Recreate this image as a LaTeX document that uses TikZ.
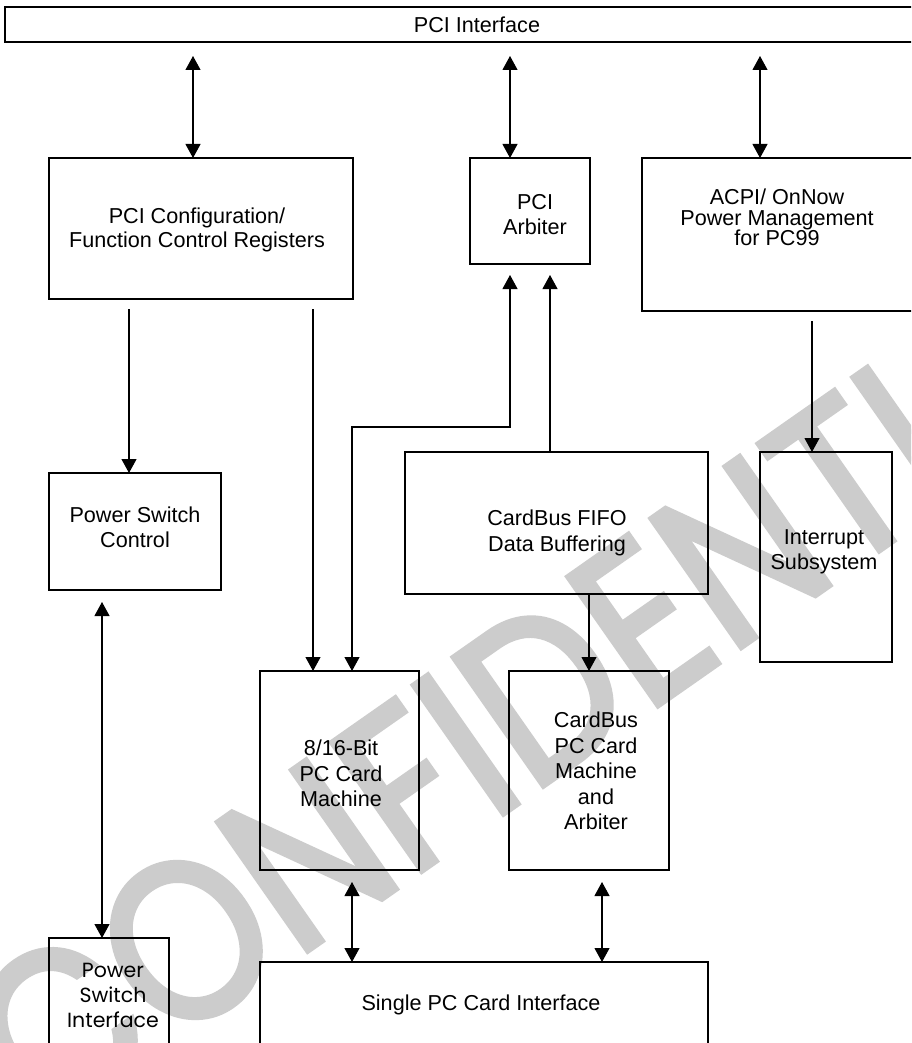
\documentclass[tikz,border=0pt]{standalone}
\usepackage{fontspec}
\setmainfont{Liberation Sans}
\newfontfamily\psifont{Poppins}
\newfontfamily\wmfont[FakeBold=2.5]{Poppins}
\usetikzlibrary{arrows.meta}
\begin{document}
\begin{tikzpicture}[x=1pt,y=-1pt,
  box/.style={draw, line width=1.4pt, outer sep=0pt, inner sep=0pt},
  txt/.style={align=center, inner sep=0pt, font=\fontsize{21.6}{25}\selectfont},
  conn/.style={line width=1.1pt},
  arr/.style={conn, -{Triangle[width=15pt,length=14pt]}},
  dbl/.style={conn, {Triangle[width=15pt,length=14pt]}-{Triangle[width=15pt,length=14pt]}},
]
\useasboundingbox (0,0) rectangle (911,1043);
\clip (0,0) rectangle (911,1043);
\fill[white] (0,0) rectangle (911,1043);
% watermark
\node[rotate=35, anchor=base, text=black!20, inner sep=0pt,
      font=\wmfont\fontsize{225}{225}\selectfont] (wm) at (596,749) {\scalebox{0.88}[1]{CONFIDENTIAL}};
% boxes
\node[box, minimum width=925, minimum height=35]  (pci)    at (467.5,24.5) {};
\node[box, minimum width=304, minimum height=141] (cfg)    at (201,228.5) {};
\node[box, minimum width=120, minimum height=106] (arb)    at (530,211) {};
\node[box, minimum width=288, minimum height=153] (acpi)   at (786,234.5) {};
\node[box, minimum width=172, minimum height=117] (psc)    at (135,531.5) {};
\node[box, minimum width=303, minimum height=142] (fifo)   at (556.5,523) {};
\node[box, minimum width=132, minimum height=210] (intr)   at (826,557) {};
\node[box, minimum width=159, minimum height=199] (b816)   at (339.5,770.5) {};
\node[box, minimum width=160, minimum height=199] (cbm)    at (589,770.5) {};
\node[box, minimum width=448, minimum height=118] (single) at (484,1021) {};
\node[box, minimum width=120, minimum height=142] (psi)    at (109,1009) {};
% texts
\node[txt] (pcit) at (477,25) {PCI Interface};
\node[txt, font=\fontsize{21.6}{24}\selectfont] (cfgt) at (197,230) {PCI Configuration/\\Function Control Registers};
\node[txt] (arbt) at (535,214.5) {PCI\\Arbiter};
\node[txt, font=\fontsize{21.6}{20.5}\selectfont] (acpit) at (777,217.5) {ACPI/ OnNow\\Power Management\\for PC99};
\node[txt] (psct) at (135,527.5) {Power Switch\\Control};
\node[txt, font=\fontsize{21.6}{26}\selectfont] (fifot) at (557,533) {CardBus FIFO\\Data Buffering};
\node[txt] (intrt) at (824,552) {Interrupt\\Subsystem};
\node[txt, font=\fontsize{21.6}{25.5}\selectfont] (b816t) at (341,773.5) {8/16-Bit\\PC Card\\Machine};
\node[txt, font=\fontsize{21.6}{25.5}\selectfont] (cbmt) at (596,771) {CardBus\\PC Card\\Machine\\and\\Arbiter};
\node[txt] (singlet) at (481,1005) {Single PC Card Interface};
\node[txt, font=\psifont\fontsize{20.5}{25}\selectfont] (psit) at (113,995) {Power\\Switch\\Interface};
% lanes
\coordinate (l1) at (193,0);
\coordinate (l2) at (510,0);
\coordinate (l3) at (760,0);
\coordinate (l4) at (129,0);
\coordinate (l5) at (313,0);
\coordinate (j1) at (510,427);
\coordinate (j2) at (352,427);
\coordinate (l8) at (550,0);
\coordinate (l9) at (812,0);
\coordinate (l10) at (589,0);
\coordinate (l11) at (102,0);
\coordinate (l12) at (352,0);
\coordinate (l13) at (602,0);
% connectors
\draw[dbl, shorten <=14pt] (pci.south -| l1) -- (cfg.north -| l1);
\draw[dbl, shorten <=14pt] (pci.south -| l2) -- (arb.north -| l2);
\draw[dbl, shorten <=14pt] (pci.south -| l3) -- (acpi.north -| l3);
\draw[arr, shorten <=10pt] (cfg.south -| l4) -- (psc.north -| l4);
\draw[arr, shorten <=10pt] (cfg.south -| l5) -- (b816.north -| l5);
\draw[dbl, shorten <=11pt] (arb.south -| j1) -- (j1) -- (j2) -- (b816.north -| j2);
\draw[arr, shorten >=11pt] (fifo.north -| l8) -- (arb.south -| l8);
\draw[arr, shorten <=10pt] (acpi.south -| l9) -- (intr.north -| l9);
\draw[arr] (fifo.south -| l10) -- (cbm.north -| l10);
\draw[dbl, shorten <=12pt] (psc.south -| l11) -- (psi.north -| l11);
\draw[dbl, shorten <=12pt] (b816.south -| l12) -- (single.north -| l12);
\draw[dbl, shorten <=12pt] (cbm.south -| l13) -- (single.north -| l13);
\end{tikzpicture}
\end{document}
